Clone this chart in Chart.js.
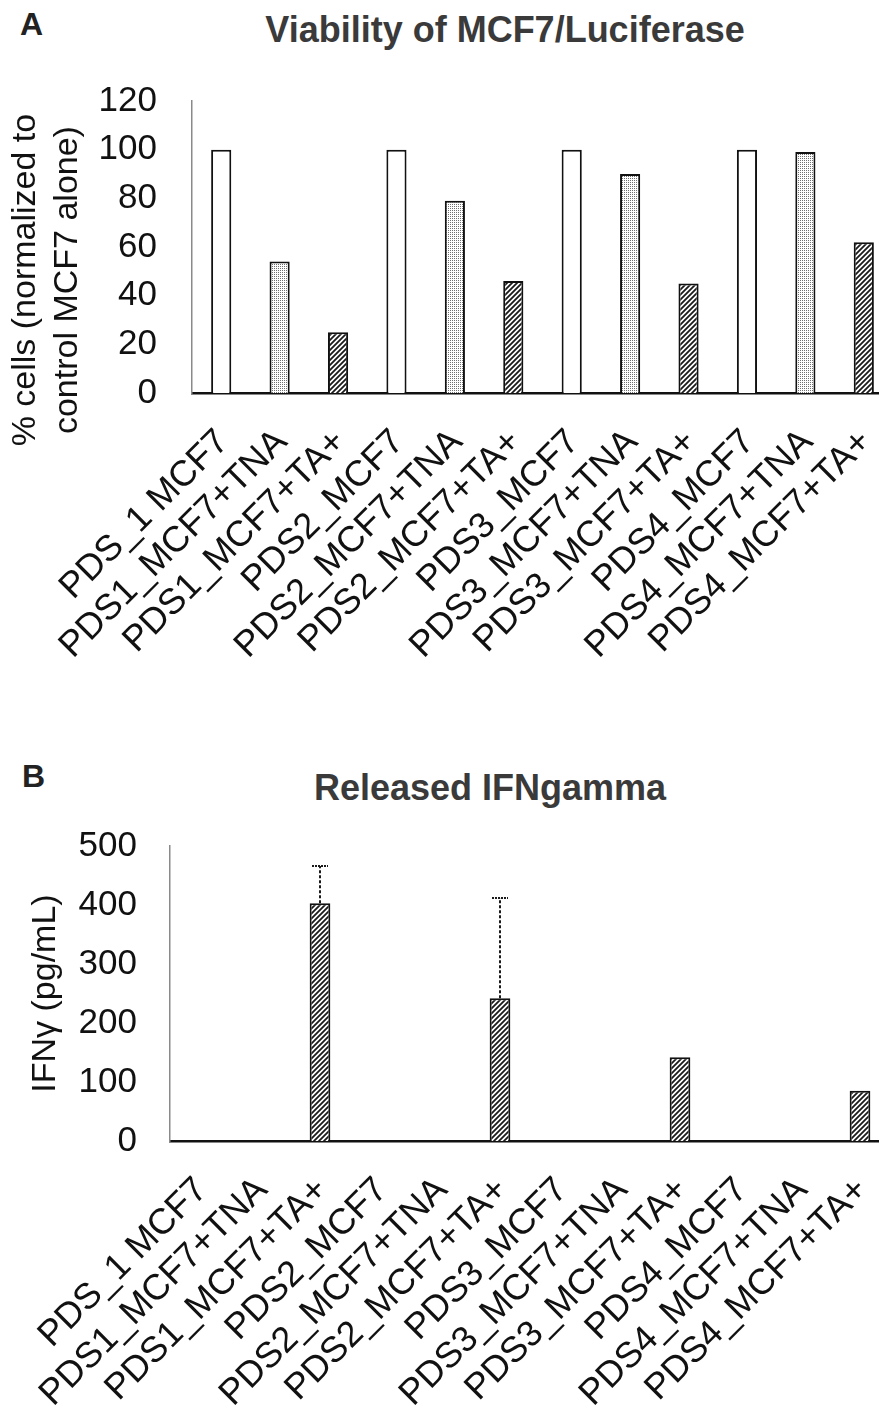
<!DOCTYPE html>
<html><head><meta charset="utf-8">
<script src="https://cdn.jsdelivr.net/npm/chart.js@4.4.1/dist/chart.umd.min.js"></script>
<style>
html,body{margin:0;padding:0;background:#fff;overflow:hidden;width:879px;height:1408px}
#page{position:relative;width:879px;height:1408px;overflow:hidden;background:#fff}
canvas{position:absolute;left:0}
.txt{position:absolute;font-family:"Liberation Sans",Arial,sans-serif;color:#222;white-space:nowrap;line-height:1}
</style></head><body>
<div id="page">
  <div class="txt" style="left:20px;top:8px;font-size:32px;font-weight:bold">A</div>
  <div class="txt" style="left:0;width:1010px;text-align:center;top:12px;font-size:36px;font-weight:bold;color:#3a3a3a">Viability of MCF7/Luciferase</div>
  <canvas id="chartA" width="893" height="720" style="top:0"></canvas>
  <div class="txt" style="left:22px;top:760px;font-size:32px;font-weight:bold">B</div>
  <div class="txt" style="left:0;width:980px;text-align:center;top:770px;font-size:36px;font-weight:bold;color:#3a3a3a">Released IFNgamma</div>
  <canvas id="chartB" width="890" height="668" style="top:740px"></canvas>
</div>
<script>
// ---- data ----
const categories = [
  "PDS_1 MCF7", "PDS1_MCF7+TNA", "PDS1_MCF7+TA+",
  "PDS2_MCF7", "PDS2_MCF7+TNA", "PDS2_MCF7+TA+",
  "PDS3_MCF7", "PDS3_MCF7+TNA", "PDS3_MCF7+TA+",
  "PDS4_MCF7", "PDS4_MCF7+TNA", "PDS4_MCF7+TA+"
];
const viabilityPct = [100, 54, 25, 100, 79, 46, 100, 90, 45, 100, 99, 62];
const ifnGamma = [0, 0, 403, 0, 0, 242, 0, 0, 142, 0, 0, 85];
const ifnGammaErr = [0, 0, 63, 0, 0, 170, 0, 0, 0, 0, 0, 0];
const viabilityAxis = { min: 0, max: 120, step: 20 };
const ifnAxis = { min: 0, max: 500, step: 100 };
const viabilityTitle = ["% cells (normalized to", "control MCF7 alone)"];
const ifnTitle = "IFN\u03B3 (pg/mL)";

// ---- patterns ----
const FONT = '"Liberation Sans", Arial, sans-serif';
const pctx = document.createElement('canvas').getContext('2d');
function makeDots() {
  const c = document.createElement('canvas'); c.width = 2; c.height = 2;
  const x = c.getContext('2d');
  x.fillStyle = '#fff'; x.fillRect(0, 0, 2, 2);
  x.fillStyle = '#707070'; x.fillRect(0, 0, 1, 1);
  return pctx.createPattern(c, 'repeat');
}
function makeHatch() {
  const s = 5;
  const c = document.createElement('canvas'); c.width = s; c.height = s;
  const x = c.getContext('2d');
  x.fillStyle = '#fff'; x.fillRect(0, 0, s, s);
  x.strokeStyle = '#1a1a1a'; x.lineWidth = 1.8;
  x.beginPath();
  x.moveTo(-1, s + 1); x.lineTo(s + 1, -1);
  x.moveTo(-1, 1); x.lineTo(1, -1);
  x.moveTo(s - 1, s + 1); x.lineTo(s + 1, s - 1);
  x.stroke();
  return pctx.createPattern(c, 'repeat');
}
const dots = makeDots(), hatch = makeHatch();
const fills = categories.map(c => c.endsWith('+TNA') ? dots : (c.endsWith('+TA+') ? hatch : '#ffffff'));

// ---- error bar plugin ----
const errorBars = {
  id: 'errorBars',
  afterDatasetsDraw(chart, args, opts) {
    const errs = opts.errors; if (!errs) return;
    const meta = chart.getDatasetMeta(0), ys = chart.scales.y, ctx = chart.ctx;
    const vals = chart.data.datasets[0].data;
    ctx.save();
    ctx.strokeStyle = '#1a1a1a'; ctx.lineWidth = 2;
    errs.forEach((e, i) => {
      if (!e) return;
      const x = meta.data[i].x;
      const y0 = ys.getPixelForValue(vals[i]);
      const y1 = ys.getPixelForValue(vals[i] + e);
      ctx.setLineDash([3, 2]);
      ctx.beginPath(); ctx.moveTo(x, y0); ctx.lineTo(x, y1); ctx.stroke();
      ctx.setLineDash([2, 1]);
      ctx.beginPath(); ctx.moveTo(x - 8, y1); ctx.lineTo(x + 8, y1); ctx.stroke();
    });
    ctx.restore();
  }
};

function makeChart(id, values, axis, cfg) {
  return new Chart(document.getElementById(id), {
    type: 'bar',
    data: {
      labels: categories,
      datasets: [{
        data: values,
        backgroundColor: fills,
        borderColor: '#111',
        borderWidth: 2,
        borderSkipped: 'start',
        categoryPercentage: 1,
        barPercentage: 0.345
      }]
    },
    plugins: cfg.plugins || [],
    options: {
      responsive: false, animation: false, events: [], devicePixelRatio: 1,
      layout: { padding: { top: cfg.top, right: 0, bottom: 0, left: 0 } },
      plugins: {
        legend: { display: false }, tooltip: { enabled: false }, title: { display: false },
        errorBars: { errors: cfg.errors || null }
      },
      scales: {
        x: {
          grid: { display: false, drawTicks: false },
          border: { display: true, color: '#111', width: 2.5 },
          ticks: { autoSkip: false, minRotation: 45, maxRotation: 45, padding: 28, labelOffset: 2,
                   color: '#111', font: { family: FONT, size: 36 } },
          afterFit: s => { s.height = cfg.xh; s.paddingLeft = 0; s.paddingRight = 0; }
        },
        y: {
          min: axis.min, max: axis.max,
          ticks: { stepSize: axis.step, padding: cfg.tickPad, color: '#111', font: { family: FONT, size: 35 } },
          grid: { display: false, drawTicks: false },
          border: { display: true, color: '#8a8a8a', width: 1.5, dash: [2, 1] },
          title: { display: true, text: cfg.title, color: '#111',
                   font: { family: FONT, size: 34, lineHeight: 1.25 }, padding: { top: cfg.titlePad, bottom: 0 } },
          afterFit: s => { s.width = cfg.yw; }
        }
      }
    }
  });
}

// the reference's y title sits a little below the axis middle: pad the end of each line
const shiftPad = '       ';
makeChart('chartA', viabilityPct, viabilityAxis,
  { top: 101, xh: 327, yw: 192, tickPad: 35, title: viabilityTitle.map(t => t + shiftPad), titlePad: 4 });
makeChart('chartB', ifnGamma, ifnAxis,
  { top: 106, xh: 267, yw: 170, tickPad: 33, title: ifnTitle, titlePad: 24, errors: ifnGammaErr, plugins: [errorBars] });
</script>
</body></html>
